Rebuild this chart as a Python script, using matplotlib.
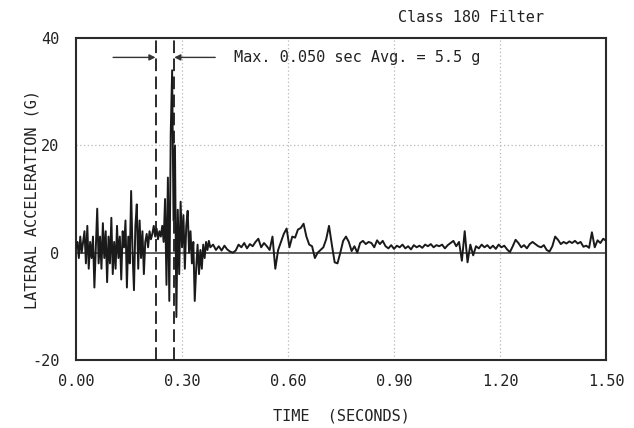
import numpy as np
import matplotlib
matplotlib.use("Agg")
import matplotlib.pyplot as plt

# ---- data ----
t_early = np.round(np.arange(0.0, 0.3801, 0.004), 3)
g_early = [1, 2, -1, 3, 0, 2, 4, -2, 5, -3,
           2, -1, 3, -6.5, 1, 8.2, -2, 3, -3, 5.5,
           -1, 4, -5.5, 3, -2, 6.5, -4, 2, -3, 5,
           -1, 3, -5, 4, 1, 6, -6.5, 3, -2, 11.5,
           0, -7, 5, 9, -3, 6, -1, 4, -4, 2,
           3.5, 1, 4, 2.5, 3.5, 5, 3, 4.5, 2.5, 4,
           3, 5, 2, 10, -6, 14, -9, 22, 34, 6,
           20, -12, 8, -4, 9.5, 1, 7, -3, 5, 7.8,
           0, 4, -2, 2, -9, -3, 1.5, -4, 0.5, -3,
           1.5, -1, 2, 0.5, 2.2, 1]

t_late = np.round(np.arange(0.388, 1.5001, 0.008), 3)
g_late = [1.5, 0.5, 1.2, 0.4, 1.3, 0.6, 0.2, 0, 0.4, 1.5,
          1, 1.8, 0.8, 1.6, 1.2, 2, 2.6, 1, 1.8, 1.2,
          0.5, 3, -3, 0.5, 2, 3.5, 4.5, 1, 3, 2.8,
          4.3, 4.6, 5.4, 3, 1.5, 1.2, -1, 0, 0.5, 1,
          2.5, 5, 1.5, -1.8, -2, 0, 2.2, 3, 2, 0.3,
          1.2, 0, 1.8, 2.2, 1.6, 2, 1.8, 1, 2.3, 1.6,
          2.2, 1.2, 0.8, 1.4, 0.7, 1.3, 1, 1.5, 0.8, 1.2,
          0.6, 1.4, 1, 1.3, 0.9, 1.5, 1.2, 1.6, 1, 1.4,
          1.2, 1.5, 0.8, 1.4, 1.8, 2.2, 1.2, 2, -1.5, 4,
          -1.8, 1.5, -0.5, 1.2, 0.8, 1.5, 1, 1.4, 0.8, 1.3,
          0.7, 1.5, 1, 1.3, 0.6, 0.1, 1.2, 2.4, 1.8, 1,
          1.4, 0.8, 1.6, 2, 1.6, 1.2, 1, 1.4, 0.5, 0.2,
          1.2, 3, 2.4, 1.6, 2, 1.7, 2.1, 1.8, 2.2, 1.7,
          2, 1.1, 1.3, 0.9, 3.8, 1, 2.3, 1.8, 2.6, 2.2]

time = np.concatenate([t_early, t_late])
accel = np.array(g_early + g_late)

window = [0.225, 0.278]
x_ticks = [0.0, 0.3, 0.6, 0.9, 1.2, 1.5]
x_ticklabels = ["0.00", "0.30", "0.60", "0.90", "1.20", "1.50"]
y_ticks = [-20, 0, 20, 40]
y_ticklabels = ["-20", "0", "20", "40"]

FONT = "DejaVu Sans Mono"
plt.rcParams["font.family"] = FONT

fig = plt.figure(figsize=(6.34, 4.28), dpi=100)
ax = fig.add_axes([0.1199, 0.159, 0.836, 0.752])

ax.set_xlim(0, 1.5)
ax.set_ylim(-20, 40)

# grid
for gx in x_ticks[1:-1]:
    ax.axvline(gx, color="#b8b8b8", lw=0.9, ls=(0, (1, 2)), zorder=1)
ax.axhline(20, color="#b8b8b8", lw=0.9, ls=(0, (1, 2)), zorder=1)
ax.axhline(0, color="#444444", lw=1.2, zorder=2)

# signal
ax.plot(time, accel, color="#1a1a1a", lw=1.4, zorder=3)

# window lines
for w in window:
    ax.axvline(w, color="#1a1a1a", lw=1.3, ls=(0, (7, 3)), zorder=4)

# arrows
ay = 36.4
ax.annotate("", xy=(window[0], ay), xytext=(0.105, ay),
            arrowprops=dict(arrowstyle="-|>", color="#333333", lw=1.0,
                            mutation_scale=9, shrinkA=0, shrinkB=0))
ax.annotate("", xy=(window[1], ay), xytext=(0.394, ay),
            arrowprops=dict(arrowstyle="-|>", color="#333333", lw=1.0,
                            mutation_scale=9, shrinkA=0, shrinkB=0))
ax.text(0.448, ay, "Max. 0.050 sec Avg. = 5.5 g", fontsize=11,
        va="center", ha="left", color="#222222")

fig.text(398 / 634, 1 - 18 / 428, "Class 180 Filter", fontsize=11,
         va="center", ha="left", color="#222222")

ax.set_xticks(x_ticks)
ax.set_xticklabels(x_ticklabels, fontsize=11, color="#222222")
ax.set_yticks(y_ticks)
ax.set_yticklabels(y_ticklabels, fontsize=11, color="#222222")
ax.tick_params(axis="both", length=0)
ax.tick_params(axis="x", pad=10)
ax.tick_params(axis="y", pad=12)

for s in ax.spines.values():
    s.set_linewidth(1.5)
    s.set_color("#2a2a2a")

ax.set_xlabel("TIME  (SECONDS)", fontsize=11, labelpad=14, color="#222222")
ax.set_ylabel("LATERAL ACCELERATION (G)", fontsize=11, color="#222222")
ax.yaxis.set_label_coords(-0.068, 0.5)

fig.savefig("out.png", dpi=100)
